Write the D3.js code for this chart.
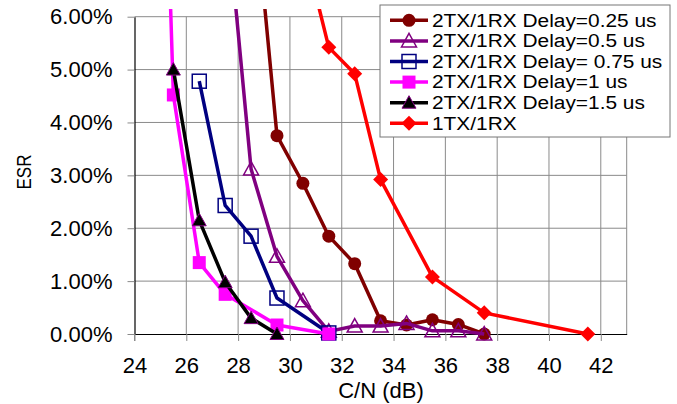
<!DOCTYPE html>
<html>
<head>
<meta charset="utf-8">
<script src="https://cdn.jsdelivr.net/npm/d3@7"></script>
<style>
  body { margin: 0; background: #fff; }
  svg { display: block; font-family: Arial, "Liberation Sans", sans-serif; }
</style>
</head>
<body>
<svg id="chart" width="677" height="404"></svg>
<script>
// C/N (dB) per series, ESR in percent
const names = ["2TX/1RX Delay=0.25 us", "2TX/1RX Delay=0.5 us", "2TX/1RX Delay= 0.75 us",
  "2TX/1RX Delay=1 us", "2TX/1RX Delay=1.5 us", "1TX/1RX"];
const cn025 = [28.5, 29.5, 30.5, 31.5, 32.5, 33.5, 34.5, 35.5, 36.5, 37.5];
const esr025 = [8.9, 3.75, 2.85, 1.85, 1.33, 0.25, 0.17, 0.27, 0.18, 0.0];
const cn05 = [27.5, 28.5, 29.5, 30.5, 31.5, 32.5, 33.5, 34.5, 35.5, 36.5, 37.5];
const esr05 = [8.3, 3.12, 1.47, 0.63, 0.05, 0.15, 0.15, 0.20, 0.06, 0.06, 0.0];
const cn075 = [26.5, 27.5, 28.5, 29.5, 31.5];
const esr075 = [4.78, 2.43, 1.85, 0.68, 0.02];
const cn1 = [24.5, 25.5, 26.5, 27.5, 29.5, 31.5];
const esr1 = [20, 4.52, 1.35, 0.75, 0.17, 0.0];
const cn15 = [25.5, 26.5, 27.5, 28.5, 29.5];
const esr15 = [5.0, 2.15, 0.98, 0.30, 0.0];
const cn1tx = [30.5, 31.5, 32.5, 33.5, 35.5, 37.5, 41.5];
const esr1tx = [7.4, 5.42, 4.92, 2.92, 1.08, 0.40, 0.0];
const xTicks = [24, 26, 28, 30, 32, 34, 36, 38, 40, 42];
const yTicks = [0, 1, 2, 3, 4, 5, 6];

const colors = ["#800000", "#800080", "#000080", "#ff00ff", "#000000", "#ff0000"];
const markers = ["circle", "triOpen", "sqOpen", "sqFill", "triFill", "diamond"];
const xs = [cn025, cn05, cn075, cn1, cn15, cn1tx];
const ys = [esr025, esr05, esr075, esr1, esr15, esr1tx];

const series = names.map((n, i) => ({
  name: n, color: colors[i], marker: markers[i],
  pts: xs[i].map((x, j) => ({x: x, y: ys[i][j]}))
}));

const svg = d3.select("#chart");
const x = d3.scaleLinear().domain([24, 43]).range([134.5, 626.7]);
const y = d3.scaleLinear().domain([0, 6]).range([334, 16.7]);

// grid
const grid = svg.append("g").attr("stroke", "#8a8a8a").attr("stroke-width", 1);
grid.selectAll("line.h").data(yTicks.slice(1)).enter().append("line")
  .attr("x1", x(24)).attr("x2", x(43))
  .attr("y1", d => y(d)).attr("y2", d => y(d));
grid.selectAll("line.v").data(xTicks.slice(1).concat([43])).enter().append("line")
  .attr("x1", d => x(d)).attr("x2", d => x(d))
  .attr("y1", y(6)).attr("y2", y(0));

// axes
const yAxis = svg.append("g").attr("transform", `translate(${x(24)},0)`)
  .call(d3.axisLeft(y).tickValues(yTicks).tickFormat(d => d3.format(".2f")(d) + "%")
    .tickSize(7).tickPadding(15).tickSizeOuter(0));
const xAxis = svg.append("g").attr("transform", `translate(0,${y(0)})`)
  .call(d3.axisBottom(x).tickValues(xTicks).tickSize(7).tickPadding(16).tickSizeOuter(0));
[xAxis, yAxis].forEach(a => {
  a.select(".domain").attr("stroke", "#000").attr("stroke-width", 1.2);
  a.selectAll(".tick line").attr("stroke", "#8a8a8a");
  a.selectAll("text").attr("font-size", 22).attr("fill", "#000")
    .attr("font-family", "Arial, 'Liberation Sans', sans-serif");
});
xAxis.append("line").attr("x1", 0).attr("x2", 0).attr("y1", 0).attr("y2", 7)
  .attr("transform", `translate(${x(24)},0)`).attr("stroke", "#8a8a8a");

// axis titles
svg.append("text").attr("transform", "translate(381,398)")
  .attr("text-anchor", "middle").attr("font-size", 22).text("C/N (dB)");
svg.append("text").attr("transform", "translate(24,172) scale(1.2,1) rotate(-90)")
  .attr("text-anchor", "middle").attr("dy", "0.35em").attr("font-size", 17).text("ESR");

// clip
svg.append("clipPath").attr("id", "clip").append("rect")
  .attr("x", 110).attr("y", 9).attr("width", 540).attr("height", 345);

function drawMarker(g, type, color) {
  if (type === "circle") {
    g.append("circle").attr("r", 6.5).attr("fill", color);
  } else if (type === "triOpen") {
    g.append("path").attr("d", "M0,-7.5L7.5,6L-7.5,6Z").attr("fill", "none")
      .attr("stroke", color).attr("stroke-width", 1.5);
  } else if (type === "sqOpen") {
    g.append("rect").attr("x", -7).attr("y", -7).attr("width", 14).attr("height", 14)
      .attr("fill", "none").attr("stroke", color).attr("stroke-width", 1.5);
  } else if (type === "sqFill") {
    g.append("rect").attr("x", -6.5).attr("y", -6.5).attr("width", 13).attr("height", 13)
      .attr("fill", color);
  } else if (type === "triFill") {
    g.append("path").attr("d", "M0,-7L7,5.5L-7,5.5Z").attr("fill", color)
      .attr("stroke", "#800080").attr("stroke-width", 1);
  } else if (type === "diamond") {
    g.append("path").attr("d", "M0,-7.5L7.5,0L0,7.5L-7.5,0Z").attr("fill", color);
  }
}

const line = d3.line().x(d => x(d.x)).y(d => y(d.y));
const plot = svg.append("g").attr("clip-path", "url(#clip)");
series.forEach(s => {
  const g = plot.append("g");
  g.append("path").datum(s.pts).attr("d", line).attr("fill", "none")
    .attr("stroke", s.color).attr("stroke-width", 3.5).attr("stroke-linejoin", "round");
  s.pts.forEach(p => {
    const m = g.append("g").attr("transform", `translate(${x(p.x)},${y(p.y)})`);
    drawMarker(m, s.marker, s.color);
  });
});

// legend
const leg = svg.append("g");
leg.append("rect").attr("x", 380).attr("y", 5).attr("width", 290).attr("height", 132)
  .attr("fill", "#fff").attr("stroke", "#777").attr("stroke-width", 1);
series.forEach((s, i) => {
  const ry = 20.3 + i * 20.6;
  const r = leg.append("g").attr("transform", `translate(0,${ry})`);
  r.append("line").attr("x1", 390).attr("x2", 428).attr("stroke", s.color).attr("stroke-width", 3.5);
  drawMarker(r.append("g").attr("transform", "translate(409,0)"), s.marker, s.color);
  r.append("text").attr("transform", "translate(432,0) scale(1.16,1)")
    .attr("dy", "0.35em").attr("font-size", 18).text(s.name);
});
</script>
</body>
</html>
